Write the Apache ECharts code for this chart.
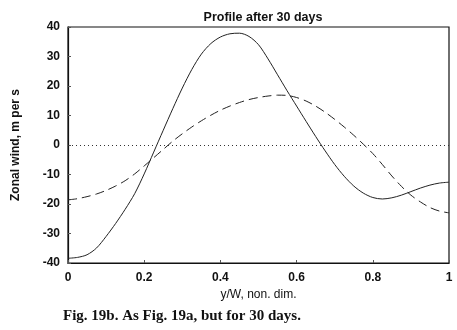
<!DOCTYPE html>
<html>
<head>
<meta charset="utf-8">
<script src="https://cdn.jsdelivr.net/npm/echarts@6/dist/echarts.min.js"></script>
<style>
  html, body { margin: 0; padding: 0; background: #fff; }
  #main { width: 457px; height: 330px; }
</style>
</head>
<body>
<div id="main"></div>
<script>
// y/W positions (non-dimensional)
var yPos = [0, 0.025, 0.05, 0.075, 0.1, 0.125, 0.15, 0.175, 0.2, 0.225,
  0.25, 0.275, 0.3, 0.325, 0.35, 0.375, 0.4, 0.425, 0.45, 0.475,
  0.5, 0.525, 0.55, 0.575, 0.6, 0.625, 0.65, 0.675, 0.7, 0.725,
  0.75, 0.775, 0.8, 0.825, 0.85, 0.875, 0.9, 0.925, 0.95, 0.975, 1];
// zonal wind (m/s), solid curve
var windSolid = [-38.4, -38.1, -37.2, -34.9, -31.0, -26.6, -21.8, -16.5, -9.8, -2.4,
  5, 12.3, 19.3, 25.6, 30.8, 34.4, 36.6, 37.7, 37.9, 36.8,
  34.0, 29.2, 23.8, 18.4, 13.2, 8.0, 2.9, -2.0, -6.6, -10.6,
  -13.9, -16.3, -17.8, -18.3, -17.9, -17, -15.8, -14.6, -13.6, -12.9, -12.6];
// zonal wind (m/s), dashed curve
var windDashed = [-18.6, -18.2, -17.5, -16.6, -15.4, -13.9, -12.1, -9.8, -7.1, -4.3,
  -1.5, 1.3, 3.8, 6.1, 8.2, 10.1, 11.8, 13.2, 14.4, 15.4,
  16.1, 16.6, 16.9, 16.8, 16.1, 14.9, 13.2, 11.1, 8.7, 6.1,
  3.3, 0.3, -2.9, -6.6, -10.5, -14, -17, -19.3, -21.2, -22.4, -23];

var pairs = function (ys) {
  var out = [];
  for (var i = 0; i < yPos.length; i++) out.push([yPos[i], ys[i]]);
  return out;
};

var chart = echarts.init(document.getElementById('main'), null, { renderer: 'canvas' });
var labelFont = { color: '#111', fontFamily: 'Liberation Sans, Arial, sans-serif', fontSize: 12, fontWeight: 'bold' };

var option = {
  backgroundColor: '#fff',
  animation: false,
  title: {
    text: 'Profile after 30 days',
    left: 258, top: 6, textAlign: 'center',
    textStyle: { color: '#111', fontFamily: 'Liberation Sans, Arial, sans-serif', fontSize: 12.5, fontWeight: 'bold' }
  },
  grid: { left: 68, right: 8, top: 27, bottom: 67 },
  xAxis: {
    type: 'value', min: 0, max: 1, interval: 0.2,
    name: 'y/W, non. dim.', nameLocation: 'middle', nameGap: 22,
    nameTextStyle: { color: '#111', fontFamily: 'Liberation Sans, Arial, sans-serif', fontSize: 12 },
    axisLine: { onZero: false, lineStyle: { color: '#111', width: 1.2 } },
    axisTick: { inside: true, length: 3, lineStyle: { color: '#555' } },
    axisLabel: Object.assign({ margin: 9 }, labelFont),
    splitLine: { show: false }
  },
  yAxis: {
    type: 'value', min: -40, max: 40, interval: 10,
    name: 'Zonal wind, m per s', nameLocation: 'middle', nameGap: 46, nameRotate: 90,
    nameTextStyle: { color: '#111', fontFamily: 'Liberation Sans, Arial, sans-serif', fontSize: 12, fontWeight: 'bold' },
    axisLine: { onZero: false, lineStyle: { color: '#111', width: 1.2 } },
    axisTick: { inside: true, length: 3, lineStyle: { color: '#555' } },
    axisLabel: Object.assign({ margin: 8 }, labelFont),
    splitLine: { show: false }
  },
  graphic: [
    { type: 'rect', shape: { x: 68, y: 27, width: 381, height: 236 }, style: { fill: 'none', stroke: '#111', lineWidth: 1.2 }, silent: true },
    { type: 'text', left: 63, top: 309,
      style: { text: 'Fig. 19b. As Fig. 19a, but for 30 days.', fill: '#111', font: 'bold 15px "Liberation Serif", "DejaVu Serif", serif' } }
  ],
  series: [
    {
      type: 'line', data: pairs(windSolid), smooth: 0.3, symbol: 'none',
      lineStyle: { color: '#222', width: 1 },
      markLine: {
        silent: true, symbol: 'none', label: { show: false },
        lineStyle: { color: '#333', type: [1, 3], width: 1 },
        data: [{ yAxis: 0 }]
      }
    },
    {
      type: 'line', data: pairs(windDashed), smooth: 0.3, symbol: 'none',
      lineStyle: { color: '#222', width: 1, type: [9, 5] }
    }
  ]
};

chart.setOption(option);
window.onresize = function () { chart.resize(); };
</script>
</body>
</html>
